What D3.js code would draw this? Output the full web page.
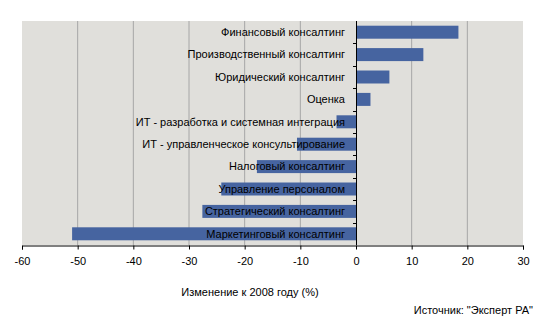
<!DOCTYPE html>
<html><head><meta charset="utf-8">
<script src="https://cdn.jsdelivr.net/npm/d3@7"></script>
<style>body{margin:0;background:#fff}svg{display:block}text{font-family:"Liberation Sans",Arial,sans-serif;fill:#000}</style>
</head><body>
<svg id="c" width="542" height="331"></svg>
<script>
const categories = ["Финансовый консалтинг","Производственный консалтинг","Юридический консалтинг","Оценка","ИТ - разработка и системная интеграция","ИТ - управленческое консультирование","Налоговый консалтинг","Управление персоналом","Стратегический консалтинг","Маркетинговый консалтинг"];
const values = [18.4, 12.1, 6.0, 2.6, -3.5, -10.6, -17.8, -24.2, -27.6, -51.0];
const xTicks = [-60,-50,-40,-30,-20,-10,0,10,20,30];
const xTitle = "Изменение к 2008 году (%)";
const source = "Источник: \"Эксперт РА\"";

const svg = d3.select("#c");
const L=22, R=523, T=21, B=245;
const x = d3.scaleLinear().domain([-60,30]).range([L,R]);
const y = d3.scaleBand().domain(categories).range([T,B]).paddingInner(0.42).paddingOuter(0.21);

svg.append("rect").attr("x",L).attr("y",T).attr("width",R-L).attr("height",B-T).attr("fill","#e0dfdb");
svg.append("g").selectAll("line").data(xTicks.filter(d=>d!==0&&d!==-60&&d!==30)).join("line")
  .attr("x1",d=>x(d)).attr("x2",d=>x(d)).attr("y1",T).attr("y2",B).attr("stroke","#a6a6a6").attr("stroke-width",1);

svg.append("g").selectAll("rect").data(values).join("rect")
  .attr("x",d=>x(Math.min(0,d))).attr("width",d=>Math.abs(x(d)-x(0)))
  .attr("y",(d,i)=>y(categories[i])).attr("height",y.bandwidth()).attr("fill","#4664a0");

// bottom axis
const ax = svg.append("g").attr("transform",`translate(0,${B+0.5})`).call(d3.axisBottom(x).tickValues(xTicks).tickSize(4).tickPadding(8).tickFormat(d=>String(d)));
ax.select(".domain").attr("stroke","#000");
ax.selectAll(".tick line").attr("stroke","#000");
ax.selectAll("text").attr("font-size","11px").attr("font-family","Liberation Sans, Arial, sans-serif");

// zero axis
const step = (B-T)/categories.length;
svg.append("line").attr("x1",x(0)+0.5).attr("x2",x(0)+0.5).attr("y1",T).attr("y2",B).attr("stroke","#000");
svg.append("g").selectAll("line").data(d3.range(1,categories.length)).join("line")
  .attr("x1",x(0)-3).attr("x2",x(0)).attr("y1",d=>Math.round(T+d*step)+0.5).attr("y2",d=>Math.round(T+d*step)+0.5).attr("stroke","#000");

// category labels
svg.append("g").selectAll("text").data(categories).join("text")
  .attr("x",x(0)-11).attr("y",d=>y(d)+y.bandwidth()/2).attr("dy","0.35em")
  .attr("text-anchor","end").attr("font-size","11px").text(d=>d);

svg.append("text").attr("x",250).attr("y",296).attr("text-anchor","middle").attr("font-size","11px").text(xTitle);
svg.append("text").attr("x",533).attr("y",314).attr("text-anchor","end").attr("font-size","11px").text(source);
</script>
</body></html>
